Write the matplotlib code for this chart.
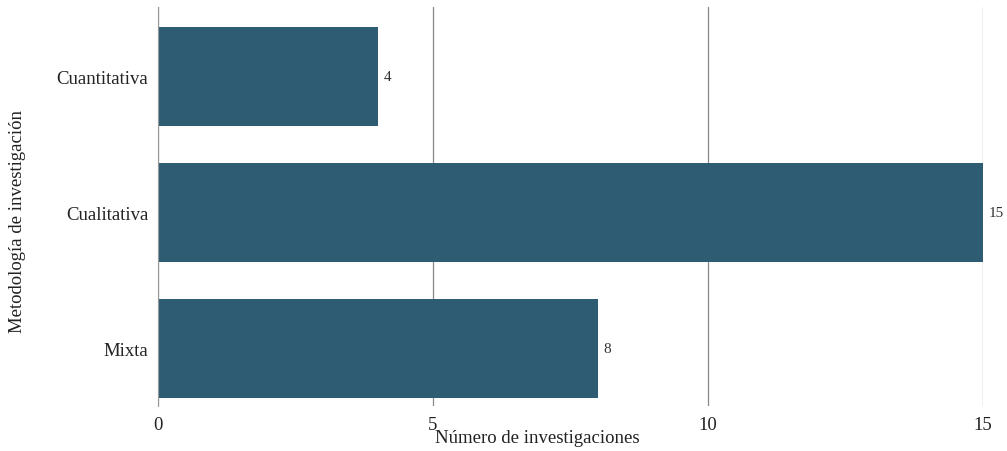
import matplotlib
matplotlib.use("Agg")
import matplotlib.pyplot as plt

categorias = ["Cuantitativa", "Cualitativa", "Mixta"]
investigaciones = [4, 15, 8]
ticks_x = [0, 5, 10, 15]

plt.rcParams['font.family'] = ['Liberation Serif', 'DejaVu Serif']

fig = plt.figure(figsize=(10.07, 4.52), dpi=100)
ax = fig.add_axes([158 / 1007, 45 / 452, 825 / 1007, 399 / 452])

pos = list(range(len(categorias)))
ax.barh(pos, investigaciones, height=0.728, color='#2e5d73', zorder=2)

for p, v in zip(pos, investigaciones):
    ax.annotate(str(v), (v, p), xytext=(4, 0), textcoords='offset points',
                va='center', ha='left', fontsize=11, color='#333333')

ax.set_xlim(0, 15)
ax.set_ylim(2.423, -0.511)
ax.set_yticks(pos)
ax.set_yticklabels(categorias)
ax.set_xticks(ticks_x)

ax.grid(axis='x', color='#888888', linewidth=0.9, zorder=0)
for s in ['top', 'right', 'bottom']:
    ax.spines[s].set_visible(False)
ax.spines['left'].set_color('#999999')
ax.tick_params(axis='both', length=0, labelsize=13.5, colors='#222222')
ax.tick_params(axis='x', pad=7)
ax.tick_params(axis='y', pad=7)

ax.set_xlabel("Número de investigaciones", fontsize=13.5, color='#222222')
ax.xaxis.set_label_coords((537 - 158) / 825, -0.058)
ax.set_ylabel("Metodología de investigación", fontsize=13.5, color='#222222')
ax.yaxis.set_label_coords(-0.16, 0.465)

plt.savefig('out.png', dpi=100)
